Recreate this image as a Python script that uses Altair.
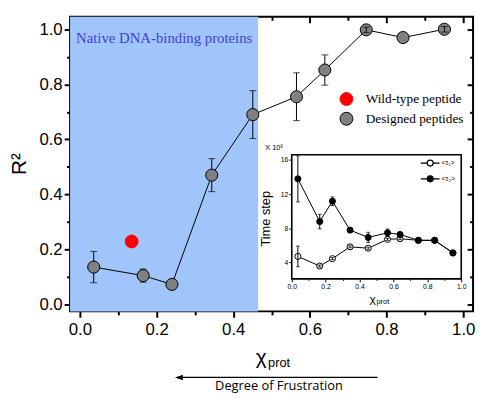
import altair as alt
import pandas as pd

# ---------------- data ----------------
chi = [0.036, 0.165, 0.240, 0.344, 0.451, 0.565, 0.639, 0.747, 0.843, 0.951]
r2 = [0.136, 0.105, 0.073, 0.470, 0.690, 0.755, 0.852, 0.998, 0.970, 1.000]
r2_err = [0.057, 0.024, 0.0, 0.060, 0.087, 0.087, 0.055, 0.010, 0.0, 0.010]
wt_chi = [0.135]
wt_r2 = [0.229]
native_region = [-0.1, 0.465]
kinds = ["Wild-type peptide", "Designed peptides"]

tau1 = [4.72, 3.60, 4.46, 5.84, 5.68, 6.71, 6.79, 6.60, 6.60, 5.13]
tau1_err = [1.20, 0.12, 0.12, 0.12, 0.12, 0.12, 0.12, 0.10, 0.10, 0.10]
tau2 = [13.78, 8.79, 11.17, 7.79, 6.94, 7.48, 7.29, 6.60, 6.60, 5.13]
tau2_err = [2.69, 0.85, 0.50, 0.20, 0.60, 0.45, 0.20, 0.0, 0.0, 0.0]
series = ["<τ₁>", "<τ₂>"]

native_label = ["Native DNA-binding proteins"]
frustration_label = ["Degree of Frustration"]
chi_label = ["χ"]
prot_label = ["prot"]
y_title = "R²"
inset_y_title = ["Time step"]
inset_scale_label = ["X 10⁶"]

# ---------------- frames ----------------
main_df = pd.DataFrame({
    "chi": chi, "r2": r2,
    "lo": [a - b for a, b in zip(r2, r2_err)],
    "hi": [a + b for a, b in zip(r2, r2_err)],
    "err": r2_err,
    "kind": kinds[1],
})
wt_df = pd.DataFrame({"chi": wt_chi, "r2": wt_r2, "kind": kinds[0]})
region_df = pd.DataFrame({"x0": [native_region[0]], "x1": [native_region[1]], "y0": [-1.0], "y1": [2.0]})

inset_df = pd.concat([
    pd.DataFrame({"chi": chi, "v": tau1,
                  "lo": [a - b for a, b in zip(tau1, tau1_err)],
                  "hi": [a + b for a, b in zip(tau1, tau1_err)],
                  "series": series[0]}),
    pd.DataFrame({"chi": chi, "v": tau2,
                  "lo": [a - b for a, b in zip(tau2, tau2_err)],
                  "hi": [a + b for a, b in zip(tau2, tau2_err)],
                  "series": series[1]}),
])
inset_frame_df = pd.DataFrame({"x0": [0.0], "x1": [1.0], "y0": [2.1], "y1": [16.6]})

# ---------------- layout constants ----------------
W, H = 409, 299
XD = [-0.0257, 1.0257]
YD = [-0.025, 1.0455]
xs = alt.Scale(domain=XD, nice=False, zero=False)
ys = alt.Scale(domain=YD, nice=False, zero=False)
ixs = alt.Scale(domain=[0, 1], range=[225, 397], nice=False, zero=False)
iys = alt.Scale(domain=[2.1, 16.6], range=[266, 140], nice=False, zero=False)

tenth_vals = [0.0, 0.1, 0.2, 0.3, 0.4, 0.5, 0.6, 0.7, 0.8, 0.9, 1.0]
even_test = "round(datum.value*10) % 2 === 0"
label_expr = "round(datum.value*10) % 2 === 0 ? format(datum.value, '.1f') : ''"

def tick_cond(test, major, minor):
    return {"condition": {"test": test, "value": major}, "value": minor}

AX_FONT = "Liberation Sans"
common = dict(grid=False, domain=False, tickColor="black", labelColor="black",
              labelFont=AX_FONT, labelOverlap=False, labelFlush=False)

x_bottom = alt.Axis(orient="bottom", values=tenth_vals, labelExpr=label_expr,
                    tickSize=tick_cond(even_test, 6, 3.5), tickWidth=2,
                    labelFontSize=17, labelPadding=4, title=None, **common)
y_left = alt.Axis(orient="left", values=tenth_vals, labelExpr=label_expr,
                  tickSize=tick_cond(even_test, 6, 3.5), tickWidth=2,
                  labelFontSize=17, labelPadding=2, title=y_title,
                  titleFont=AX_FONT, titleFontSize=21, titleFontWeight="normal",
                  titleColor="black", titleX=-51, titleY=149, titleAngle=270,
                  titleAlign="center", titleBaseline="middle", **common)
x_top = alt.Axis(orient="bottom", offset=-H, values=tenth_vals, labels=False,
                 tickSize=tick_cond(even_test, 6, 3.5), tickWidth=2, title=None, **common)
y_right = alt.Axis(orient="left", offset=-W, values=tenth_vals, labels=False,
                   tickSize=tick_cond(even_test, 6, 3.5), tickWidth=2, title=None, **common)

ix_axis = alt.Axis(orient="bottom", offset=266 - H, values=tenth_vals, labelExpr=label_expr,
                   tickSize=tick_cond(even_test, 3, 1.5), tickWidth=1,
                   labelFontSize=7, labelPadding=1, title=None, **common)
iy_axis = alt.Axis(orient="left", offset=-225, values=[2, 4, 6, 8, 10, 12, 14, 16],
                   labelExpr="datum.value % 4 === 0 ? format(datum.value, 'd') : ''",
                   tickSize=tick_cond("datum.value % 4 === 0", 3, 1.5), tickWidth=1,
                   labelFontSize=7, labelPadding=1, title=None, **common)

# ---------------- main panel ----------------
blue = alt.Chart(region_df).mark_rect(color="#9fc5fb", clip=True).encode(
    x=alt.X("x0:Q", scale=xs, axis=x_bottom), x2="x1:Q",
    y=alt.Y("y0:Q", scale=ys, axis=y_left), y2="y1:Q")

native_txt = alt.Chart(pd.DataFrame({"t": native_label})).mark_text(
    align="left", baseline="middle", font="Liberation Serif", fontSize=15, color="#4242d4"
).encode(x=alt.value(6), y=alt.value(22), text="t:N")

line = alt.Chart(main_df).mark_line(color="black", strokeWidth=1).encode(
    x=alt.X("chi:Q", scale=xs, axis=x_top), y=alt.Y("r2:Q", scale=ys, axis=y_right))

eb = alt.Chart(main_df).mark_errorbar(color="black", ticks={"size": 7}).encode(
    x=alt.X("chi:Q", scale=xs, axis=None),
    y=alt.Y("lo:Q", scale=ys, axis=None), y2="hi:Q")

eb_top = alt.Chart(main_df).transform_filter(
    "datum.err > 0 && datum.err < 0.02").mark_errorbar(color="black", ticks={"size": 7}).encode(
    x=alt.X("chi:Q", scale=xs, axis=None),
    y=alt.Y("lo:Q", scale=ys, axis=None), y2="hi:Q")

leg = alt.Legend(orient="none", legendX=273, legendY=76, title=None,
                 labelFont="Liberation Serif", labelFontSize=13.5, labelColor="black",
                 symbolType="circle", symbolSize=170, symbolStrokeWidth=1,
                 symbolOpacity=1, labelOffset=12, rowPadding=1, padding=0)
fill_scale = alt.Scale(domain=kinds, range=["#ff0000", "#808080"])
stroke_scale = alt.Scale(domain=kinds, range=["#ff0000", "black"])

pts = alt.Chart(main_df).mark_circle(size=150, opacity=1, strokeWidth=1).encode(
    x=alt.X("chi:Q", scale=xs, axis=None), y=alt.Y("r2:Q", scale=ys, axis=None),
    fill=alt.Fill("kind:N", scale=fill_scale, legend=leg),
    stroke=alt.Stroke("kind:N", scale=stroke_scale, legend=leg))

red = alt.Chart(wt_df).mark_circle(size=170, opacity=1, strokeWidth=1).encode(
    x=alt.X("chi:Q", scale=xs, axis=None), y=alt.Y("r2:Q", scale=ys, axis=None),
    fill=alt.Fill("kind:N", scale=fill_scale, legend=leg),
    stroke=alt.Stroke("kind:N", scale=stroke_scale, legend=leg))

chi_txt = alt.Chart(pd.DataFrame({"t": chi_label})).mark_text(
    align="center", baseline="middle", font=AX_FONT, fontSize=21, color="black"
).encode(x=alt.value(194), y=alt.value(346), text="t:N")
prot_txt = alt.Chart(pd.DataFrame({"t": prot_label})).mark_text(
    align="left", baseline="middle", font=AX_FONT, fontSize=13, color="black"
).encode(x=alt.value(201), y=alt.value(351), text="t:N")

arrow_line = alt.Chart(pd.DataFrame({"t": frustration_label})).mark_rule(
    color="black", strokeWidth=1.2).encode(
    x=alt.value(112), x2=alt.value(312), y=alt.value(366))
arrow_head = alt.Chart(pd.DataFrame({"t": frustration_label})).mark_point(
    shape="M-1,0L1,-0.7L1,0.7Z", size=64, filled=True, color="black", opacity=1).encode(
    x=alt.value(110.5), y=alt.value(366))
frus_txt = alt.Chart(pd.DataFrame({"t": frustration_label})).mark_text(
    align="center", baseline="middle", font="Open Sans", fontSize=13, color="black"
).encode(x=alt.value(212), y=alt.value(375), text="t:N")

main = alt.layer(blue, native_txt, line, eb, pts, red, eb_top,
                 chi_txt, prot_txt, arrow_line, arrow_head, frus_txt
                 ).resolve_axis(x="independent", y="independent")

# ---------------- inset ----------------
iframe = alt.Chart(inset_frame_df).mark_rect(fill="white", stroke="black", strokeWidth=1.6).encode(
    x=alt.X("x0:Q", scale=ixs, axis=ix_axis), x2="x1:Q",
    y=alt.Y("y0:Q", scale=iys, axis=iy_axis), y2="y1:Q")

iline = alt.Chart(inset_df).mark_line(color="black", strokeWidth=1).encode(
    x=alt.X("chi:Q", scale=ixs, axis=None), y=alt.Y("v:Q", scale=iys, axis=None),
    detail="series:N")

LEG_PATH = ("M-1,0L-0.32,0M0.32,0L1,0M-0.32,0A0.32,0.32,0,1,1,0.32,0"
            "A0.32,0.32,0,1,1,-0.32,0Z")
ileg = alt.Legend(orient="none", legendX=355, legendY=138, title=None,
                  labelFont=AX_FONT, labelFontSize=7, labelColor="black",
                  symbolType=LEG_PATH, symbolSize=361, symbolStrokeColor="black",
                  symbolStrokeWidth=1.2, symbolOpacity=1, labelOffset=1,
                  rowPadding=-5, padding=0)
ipts = alt.Chart(inset_df).mark_circle(size=38, opacity=1, stroke="black", strokeWidth=1).encode(
    x=alt.X("chi:Q", scale=ixs, axis=None), y=alt.Y("v:Q", scale=iys, axis=None),
    fill=alt.Fill("series:N", scale=alt.Scale(domain=series, range=["white", "black"]), legend=ileg))

ieb = alt.Chart(inset_df).mark_errorbar(color="black", ticks={"size": 4}).encode(
    x=alt.X("chi:Q", scale=ixs, axis=None),
    y=alt.Y("lo:Q", scale=iys, axis=None), y2="hi:Q")

ititle = alt.Chart(pd.DataFrame({"t": inset_y_title})).mark_text(
    angle=270, align="center", baseline="middle", font=AX_FONT, fontSize=13, color="black"
).encode(x=alt.value(199), y=alt.value(205), text="t:N")
iscale = alt.Chart(pd.DataFrame({"t": inset_scale_label})).mark_text(
    align="left", baseline="middle", font=AX_FONT, fontSize=7.5, color="black"
).encode(x=alt.value(198), y=alt.value(133), text="t:N")
ichi = alt.Chart(pd.DataFrame({"t": chi_label})).mark_text(
    align="center", baseline="middle", font=AX_FONT, fontSize=12, color="black"
).encode(x=alt.value(307), y=alt.value(286), text="t:N")
iprot = alt.Chart(pd.DataFrame({"t": prot_label})).mark_text(
    align="left", baseline="middle", font=AX_FONT, fontSize=7.5, color="black"
).encode(x=alt.value(311), y=alt.value(290), text="t:N")

inset = alt.layer(iframe, iline, ipts, ieb, ititle, iscale, ichi, iprot
                  ).resolve_axis(x="independent", y="independent")

chart = alt.layer(main, inset).resolve_scale(
    x="independent", y="independent", fill="independent", stroke="independent"
).properties(
    width=W, height=H,
    autosize=alt.AutoSizeParams(type="none"),
    padding={"left": 63, "top": 6, "right": 4, "bottom": 84},
).configure_view(stroke="black", strokeWidth=2)

chart.save("out.html", embed_options={"renderer": "svg", "actions": False})
